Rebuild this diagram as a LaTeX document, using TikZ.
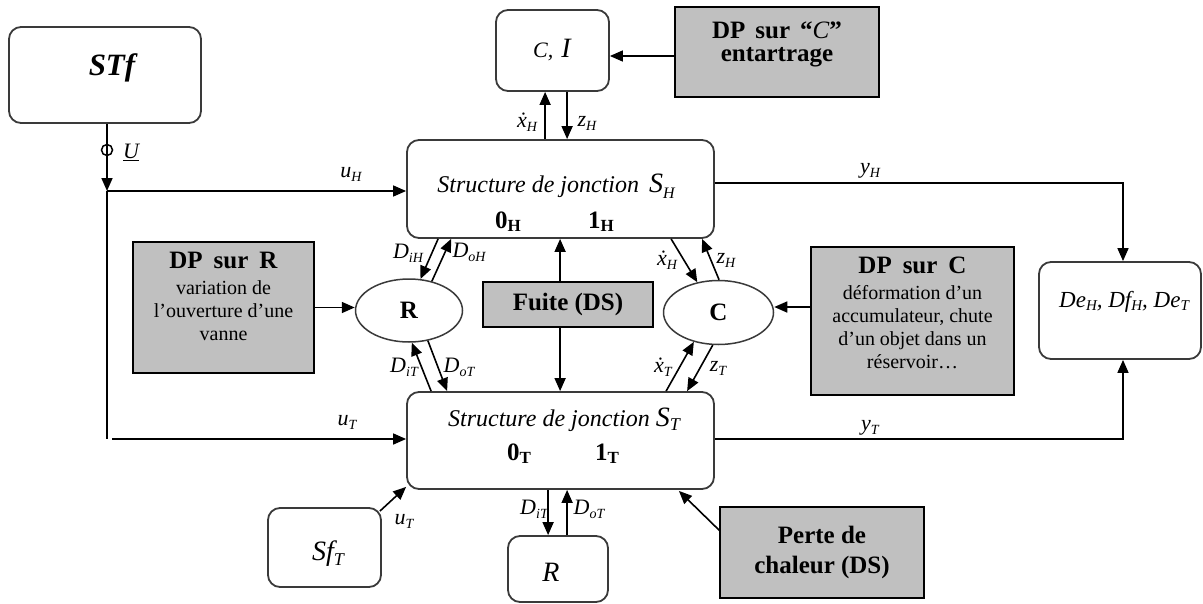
\documentclass[tikz,border=0pt]{standalone}
\usepackage{fontspec}
\setmainfont{Liberation Serif}
\usetikzlibrary{arrows.meta,shapes.geometric,calc}
\definecolor{dpgray}{HTML}{C0C0C0}
\definecolor{bord}{HTML}{3A3A3A}
\newcommand{\fs}[2]{\fontsize{#1}{#2}\selectfont}
\newcommand{\lsub}[2]{\textit{#1}\raisebox{-4pt}{\fs{14}{14}\textit{#2}}}
\tikzset{
  rbox/.style={draw=bord, line width=1.8pt, rounded corners=12pt, align=center, inner sep=0pt},
  gbox/.style={draw=black, fill=dpgray, line width=1.8pt, align=center, inner sep=0pt},
  ell/.style={ellipse, draw=bord, line width=1.5pt, inner sep=0pt},
  arr/.style={-{Triangle[length=13pt,width=11pt]}, line width=1.6pt},
  ln/.style={line width=1.6pt},
  lbl/.style={inner sep=0pt, font=\fs{22}{24}\itshape},
  txt/.style={inner sep=0pt, align=center}
}
\begin{document}
\begin{tikzpicture}[x=1pt,y=-1pt]
\useasboundingbox (0,0) rectangle (1203,603);
% boxes
\node[rbox, minimum width=192pt, minimum height=96pt] (STf) at (105,75) {};
\node[txt, font=\fs{31}{34}\bfseries\itshape] (STft) at (112,68) {STf};
\node[rbox, minimum width=113pt, minimum height=81pt] (CI) at (552.5,50.5) {{\fs{22}{24}\textit{C,}}\hspace{8pt}{\fs{28}{30}\textit{I}}};
\node[gbox, minimum width=204pt, minimum height=90pt] (DPC) at (777,52) {};
\node[txt, font=\fs{25}{23}\bfseries] (DPCt) at (777,44) {DP\hspace{10pt}sur\hspace{10pt}“{\mdseries\itshape C}”\\entartrage};
\node[rbox, minimum width=307pt, minimum height=98pt] (SH) at (560.5,189) {};
\node[txt, font=\fs{24}{27}\itshape] (SHa) at (556,186) {Structure de jonction\hspace{10pt}{\fs{28}{30}S}\raisebox{-6pt}{\fs{16}{16}H}};
\node[txt, font=\fs{25}{26}\bfseries] (SH0) at (508,222) {0\raisebox{-3pt}{\fs{17}{17}H}};
\node[txt, font=\fs{25}{26}\bfseries] (SH1) at (601,222) {1\raisebox{-3pt}{\fs{17}{17}H}};
\node[rbox, minimum width=307pt, minimum height=97pt] (ST) at (560.5,440.5) {};
\node[txt, font=\fs{24}{27}\itshape] (STa) at (564,420) {Structure de jonction\hspace{6pt}{\fs{28}{30}S}\raisebox{-4pt}{\fs{18}{18}T}};
\node[txt, font=\fs{25}{26}\bfseries] (ST0) at (519,454) {0\raisebox{-3pt}{\fs{17}{17}T}};
\node[txt, font=\fs{25}{26}\bfseries] (ST1) at (607,454) {1\raisebox{-3pt}{\fs{17}{17}T}};
\node[rbox, minimum width=162pt, minimum height=97pt] (De) at (1120,310.5) {};
\node[txt, anchor=west, font=\fs{23}{25}\itshape] (Det) at (1059,302) {De\raisebox{-3pt}{\fs{15}{15}H}, Df\raisebox{-3pt}{\fs{15}{15}H}, De\raisebox{-3pt}{\fs{15}{15}T}};
\node[gbox, minimum width=181pt, minimum height=131pt] (DPR) at (223.5,307.5) {};
\node[txt, anchor=north, font=\fs{20}{23}] (DPRt) at (223.5,252) {{\fs{25}{26}\bfseries DP\hspace{11pt}sur\hspace{11pt}R}\\[3pt]variation de\\l’ouverture d’une\\vanne};
\node[gbox, minimum width=203pt, minimum height=148pt] (DPCb) at (912.5,321) {};
\node[txt, anchor=north, font=\fs{20}{23}] (DPCbt) at (912.5,257) {{\fs{25}{26}\bfseries DP\hspace{11pt}sur\hspace{11pt}C}\\[3pt]déformation d’un\\accumulateur, chute\\d’un objet dans un\\réservoir…};
\node[gbox, minimum width=170pt, minimum height=45pt, font=\fs{25}{26}\bfseries] (Fuite) at (568,304.5) {Fuite (DS)};
\node[gbox, minimum width=204pt, minimum height=91pt, font=\fs{25}{30}\bfseries] (Perte) at (822,552.5) {Perte de\\chaleur (DS)};
\node[ell, minimum width=107pt, minimum height=63pt, font=\fs{25}{26}\bfseries] (Re) at (409,310.5) {R};
\node[ell, minimum width=110pt, minimum height=64pt, font=\fs{25}{26}\bfseries] (Ce) at (718.5,312.5) {C};
\node[rbox, minimum width=113pt, minimum height=79pt] (SfT) at (324.5,547.5) {};
\node[txt, font=\fs{28}{30}\itshape] (SfTt) at (328,554) {Sf\raisebox{-5pt}{\fs{18}{18}T}};
\node[rbox, minimum width=100pt, minimum height=66pt] (Rb) at (558,569) {};
\node[txt, font=\fs{28}{30}\itshape] (Rbt) at (551,572) {R};
% connectors
\coordinate (J1) at (107,191);
\coordinate (J2) at (107,439);
\coordinate (J3) at (112,439);
\draw[arr] (STf.south -| J1) -- (J1);
\node[circle, draw, line width=1.5pt, minimum size=11pt, inner sep=0pt] (Uc) at (107,150) {};
\draw[arr] (J1) -- (J1 -| SH.west);
\draw[ln] (J1) -- (J2);
\draw[arr] (J3) -- (J3 -| ST.west);
\coordinate (a1) at ($(SH.north west)+(139,0)$);
\coordinate (a2) at ($(SH.north west)+(161,0)$);
\draw[arr] (a1) -- (a1 |- CI.south);
\draw[arr] (a2 |- CI.south) -- (a2);
\coordinate (c1) at ($(DPC.west)+(0,4)$);
\draw[arr] (c1) -- (c1 -| CI.east);
\coordinate (yH) at (1123,183);
\coordinate (yT) at (1123,439);
\draw[arr] (yH -| SH.east) -- (yH) -- (yH |- De.north);
\draw[arr] (yT -| ST.east) -- (yT) -- (yT |- De.south);
\draw[arr] (DPR.east) -- (DPR.east -| Re.west);
\draw[arr] ($(SH.south west)+(32,0)$) -- (Re.70);
\draw[arr] (Re.52) -- ($(SH.south west)+(45,0)$);
\draw[arr] ($(ST.north west)+(25,0)$) -- (Re.275);
\draw[arr] (Re.302) -- ($(ST.north west)+(41,0)$);
\coordinate (a3) at ($(SH.south west)+(154,0)$);
\draw[arr] (a3 |- Fuite.north) -- (a3);
\draw[arr] (a3 |- Fuite.south) -- (a3 |- ST.north);
\draw[arr] ($(SH.south west)+(265,0)$) -- (Ce.125);
\draw[arr] (Ce.89) -- ($(SH.south west)+(296,0)$);
\draw[arr] ($(ST.north west)+(260,0)$) -- (Ce.230);
\draw[arr] (Ce.260) -- ($(ST.north west)+(281,0)$);
\coordinate (c2) at ($(DPCb.west)+(0,-14)$);
\draw[arr] (c2) -- (c2 -| Ce.east);
\draw[arr] ($(SfT.north east)+(-2,4)$) -- ($(ST.south west)+(0,-3)$);
\coordinate (b1) at ($(ST.south west)+(142,0)$);
\coordinate (b2) at ($(ST.south west)+(161,0)$);
\draw[arr] (b1) -- (b1 |- Rb.north);
\draw[arr] (b2 |- Rb.north) -- (b2);
\draw[arr] ($(Perte.north west)+(1,25)$) -- ($(ST.south east)+(-36,1)$);
% labels
\node[lbl] (lU) at (131,152) {\underline{U}};
\node[lbl] (luH) at (351,174) {\lsub{u}{H}};
\node[lbl] (luT) at (347,422) {\lsub{u}{T}};
\node[lbl] (lxH) at (527,122) {\lsub{\.x}{H}};
\node[lbl] (lzH) at (587,123) {\lsub{z}{H}};
\node[lbl] (lyH) at (870,171) {\lsub{y}{H}};
\node[lbl] (lyT) at (870,428) {\lsub{y}{T}};
\node[lbl] (lDiH) at (408,253) {\lsub{D}{iH}};
\node[lbl] (lDoH) at (469,252) {\lsub{D}{oH}};
\node[lbl] (lDiT) at (404,367) {\lsub{D}{iT}};
\node[lbl] (lDoT) at (459,367) {\lsub{D}{oT}};
\node[lbl] (lxH2) at (667,260) {\lsub{\.x}{H}};
\node[lbl] (lzH2) at (726,260) {\lsub{z}{H}};
\node[lbl] (lxT) at (663,367) {\lsub{\.x}{T}};
\node[lbl] (lzT) at (718,368) {\lsub{z}{T}};
\node[lbl] (lDiT2) at (534,509) {\lsub{D}{iT}};
\node[lbl] (lDoT2) at (589,509) {\lsub{D}{oT}};
\node[lbl] (luT2) at (404,521) {\lsub{u}{T}};
\end{tikzpicture}
\end{document}
